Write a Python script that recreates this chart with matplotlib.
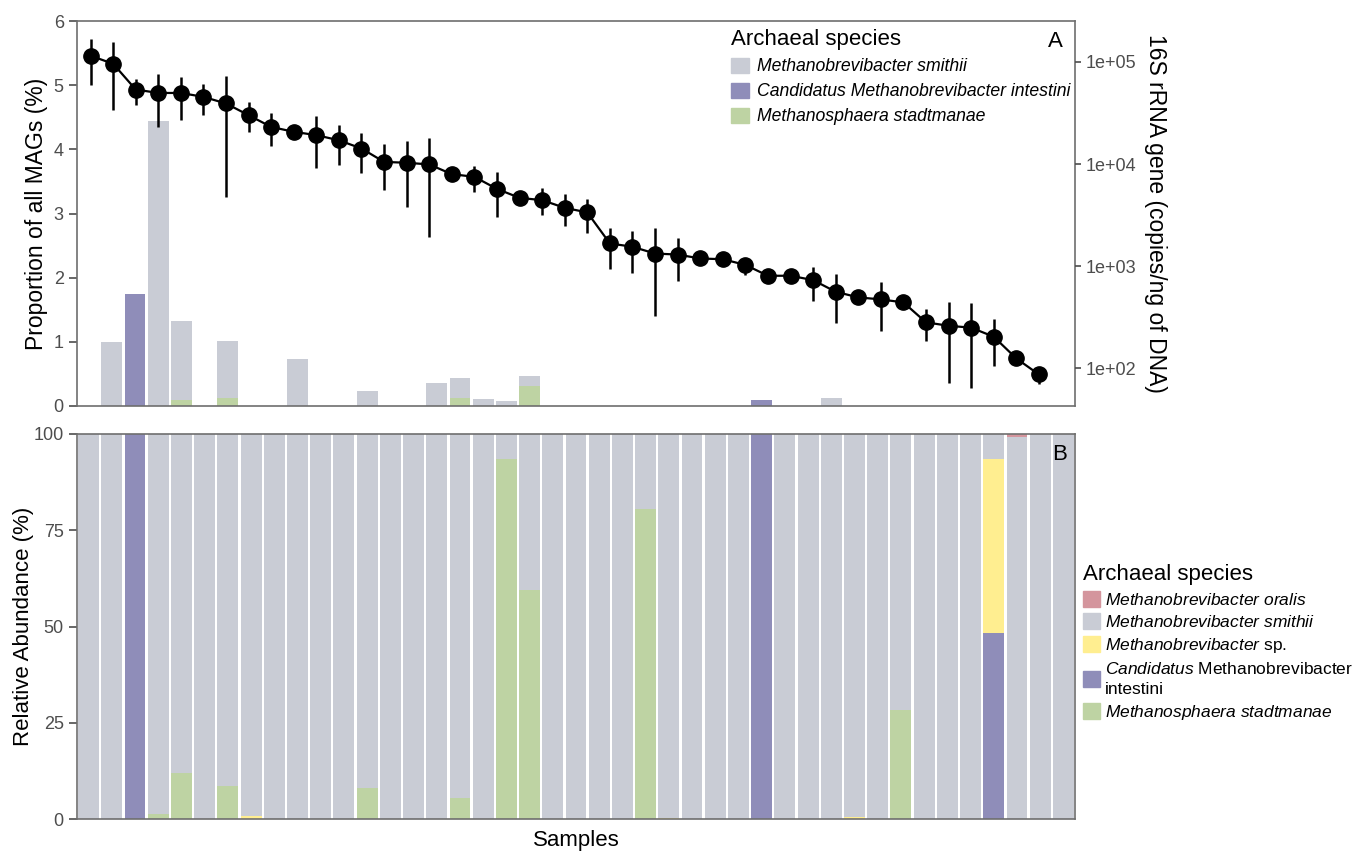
import numpy as np
import matplotlib.pyplot as plt
from matplotlib.patches import Patch

plt.rcParams['font.family'] = ['Liberation Sans', 'DejaVu Sans']
plt.rcParams['mathtext.fontset'] = 'custom'
plt.rcParams['mathtext.it'] = 'Liberation Sans:italic'
plt.rcParams['mathtext.rm'] = 'Liberation Sans'

n = 43
samples = np.arange(n)

# panel A: proportion of all MAGs (%) per sample
mags_smithii = np.zeros(n)
mags_intestini = np.zeros(n)
mags_stadt = np.zeros(n)
for i, v in {1: 1.00, 3: 4.44, 4: 1.23, 6: 0.88, 9: 0.74, 12: 0.23, 15: 0.36,
             16: 0.32, 17: 0.11, 18: 0.08, 19: 0.16, 32: 0.13}.items():
    mags_smithii[i] = v
for i, v in {2: 1.75, 29: 0.10}.items():
    mags_intestini[i] = v
for i, v in {4: 0.09, 6: 0.13, 16: 0.12, 19: 0.31}.items():
    mags_stadt[i] = v

# qPCR 16S rRNA gene copies/ng of DNA (mean, lower, upper)
qpcr = [1.15e5, 9.6e4, 5.37e4, 4.97e4, 4.97e4, 4.55e4, 3.92e4, 3.01e4, 2.31e4, 2.07e4,
        1.92e4, 1.71e4, 1.42e4, 1.05e4, 1.03e4, 9.92e3, 7.97e3, 7.50e3, 5.71e3, 4.67e3,
        4.43e3, 3.73e3, 3.36e3, 1.67e3, 1.55e3, 1.33e3, 1.30e3, 1.19e3, 1.17e3, 1.03e3,
        806, 806, 731, 562, 495, 473, 442, 282, 261, 250, 204, 125, 87]
qpcr_lo = [5.9e4, 3.37e4, 3.83e4, 2.31e4, 2.73e4, 2.99e4, 4.78e3, 2.04e4, 1.50e4, 1.95e4,
           9.06e3, 9.69e3, 8.09e3, 5.56e3, 3.81e3, 1.94e3, 7.5e3, 5.35e3, 3.04e3, 4.4e3,
           3.16e3, 2.47e3, 2.12e3, 931, 861, 325, 720, 1.12e3, 1.1e3, 818,
           760, 760, 456, 276, 467, 232, 417, 185, 72, 64, 105, 118, 70]
qpcr_hi = [1.69e5, 1.57e5, 6.78e4, 7.69e4, 7.13e4, 6.15e4, 7.29e4, 4.06e4, 3.17e4, 2.2e4,
           2.95e4, 2.44e4, 2.02e4, 1.56e4, 1.68e4, 1.78e4, 8.45e3, 9.6e3, 8.39e3, 4.95e3,
           5.77e3, 5.05e3, 4.51e3, 2.38e3, 2.22e3, 2.35e3, 1.87e3, 1.26e3, 1.24e3, 1.19e3,
           855, 855, 986, 837, 525, 703, 469, 378, 449, 433, 301, 132, 100]

# panel B: relative abundance (%)
rel_intestini = np.zeros(n)
rel_sp = np.zeros(n)
rel_oralis = np.zeros(n)
rel_stadt = np.zeros(n)
for i, v in {2: 100, 29: 100, 39: 48.2}.items():
    rel_intestini[i] = v
for i, v in {7: 0.7, 25: 0.3, 33: 0.5, 39: 45.2}.items():
    rel_sp[i] = v
rel_oralis[40] = 0.7
for i, v in {3: 1.4, 4: 12.0, 6: 8.6, 12: 8.1, 16: 5.5, 18: 93.6, 19: 59.4,
             24: 80.6, 35: 28.4}.items():
    rel_stadt[i] = v
rel_smithii = 100 - rel_intestini - rel_sp - rel_oralis - rel_stadt

c_oralis = '#D4959D'
c_smithii = '#C9CCD5'
c_sp = '#FFEE90'
c_int = '#8F8DB9'
c_stadt = '#BED3A3'
grey = '#4D4D4D'
edge = '#6E6E6E'

fig = plt.figure(figsize=(13.52, 8.52), dpi=100)
pos_a = [77 / 1352, 446 / 852, 998 / 1352, 385 / 852]
pos_b = [77 / 1352, 33 / 852, 998 / 1352, 385 / 852]

ax = fig.add_axes(pos_a)
ax.bar(samples, mags_stadt, width=0.9, color=c_stadt)
ax.bar(samples, mags_intestini, width=0.9, bottom=mags_stadt, color=c_int)
ax.bar(samples, mags_smithii, width=0.9, bottom=mags_stadt + mags_intestini, color=c_smithii)
ax.set_xlim(-0.5, n - 0.5)
ax.set_ylim(0, 6)
ax.set_xticks([])
ax.set_yticks(range(7))
ax.tick_params(axis='y', labelsize=13, colors=grey, length=6, width=1.2)
ax.set_ylabel('Proportion of all MAGs (%)', fontsize=16.5, labelpad=4)
for s in ax.spines.values():
    s.set_color(edge)
    s.set_linewidth(1.2)
ax.text(0.988, 0.975, 'A', transform=ax.transAxes, ha='right', va='top', fontsize=16)

handles_a = [Patch(color=c_smithii, label='Methanobrevibacter smithii'),
             Patch(color=c_int, label='Candidatus Methanobrevibacter intestini'),
             Patch(color=c_stadt, label='Methanosphaera stadtmanae')]
leg = ax.legend(handles=handles_a, title='Archaeal species', loc='upper left',
                bbox_to_anchor=(0.643, 1.01), frameon=False,
                prop={'style': 'italic', 'size': 12.7}, title_fontsize=16,
                handlelength=1.0, handleheight=1.0, labelspacing=0.4,
                handletextpad=0.45, borderaxespad=0.3)
leg._legend_box.align = 'left'

# qPCR overlay on a log axis at the right
axq = fig.add_axes(pos_a, facecolor='none')
axq.errorbar(np.arange(n), qpcr, yerr=[np.array(qpcr) - np.array(qpcr_lo), np.array(qpcr_hi) - np.array(qpcr)],
             fmt='-o', color='black', ms=11, lw=1.6, elinewidth=1.8, capsize=0)
axq.set_yscale('log')
axq.set_xlim(-0.6, 43.6)
axq.set_ylim(10 ** 1.631, 10 ** 5.401)
axq.set_xticks([])
axq.yaxis.tick_right()
axq.yaxis.set_label_position('right')
axq.set_yticks([1e2, 1e3, 1e4, 1e5])
axq.set_yticklabels(['1e+02', '1e+03', '1e+04', '1e+05'])
axq.minorticks_off()
axq.tick_params(axis='y', labelsize=13, colors=grey, length=4, width=1.2)
axq.set_ylabel('16S rRNA gene (copies/ng of DNA)', fontsize=16.5, rotation=270, labelpad=22)
for s in axq.spines.values():
    s.set_visible(False)

axb = fig.add_axes(pos_b)
b = np.zeros(n)
for vals, col in [(rel_stadt, c_stadt), (rel_intestini, c_int), (rel_sp, c_sp),
                  (rel_smithii, c_smithii), (rel_oralis, c_oralis)]:
    axb.bar(samples, vals, width=0.9, bottom=b, color=col)
    b = b + vals
axb.set_xlim(-0.5, n - 0.5)
axb.set_ylim(0, 100)
axb.set_xticks([])
axb.set_yticks([0, 25, 50, 75, 100])
axb.tick_params(axis='y', labelsize=13, colors=grey, length=6, width=1.2)
axb.set_ylabel('Relative Abundance (%)', fontsize=16, labelpad=0)
axb.set_xlabel('Samples', fontsize=16, labelpad=8)
for s in axb.spines.values():
    s.set_color(edge)
    s.set_linewidth(1.2)
axb.text(0.992, 0.975, 'B', transform=axb.transAxes, ha='right', va='top', fontsize=16)

handles_b = [Patch(color=c_oralis, label=r'$\it{Methanobrevibacter\ oralis}$'),
             Patch(color=c_smithii, label=r'$\it{Methanobrevibacter\ smithii}$'),
             Patch(color=c_sp, label=r'$\it{Methanobrevibacter}$ sp.'),
             Patch(color=c_int, label='$\\it{Candidatus}$ Methanobrevibacter\nintestini'),
             Patch(color=c_stadt, label=r'$\it{Methanosphaera\ stadtmanae}$')]
legb = axb.legend(handles=handles_b, title='Archaeal species', loc='center left',
                  bbox_to_anchor=(1.0, 0.457), frameon=False, fontsize=12.5,
                  title_fontsize=16, handlelength=1.0, handleheight=1.0,
                  labelspacing=0.33, handletextpad=0.25, borderaxespad=0.45,
                  borderpad=0.0)
legb._legend_box.align = 'left'
for t in legb.get_texts():
    t.set_linespacing(1.45)

fig.savefig('out.png', dpi=100)
